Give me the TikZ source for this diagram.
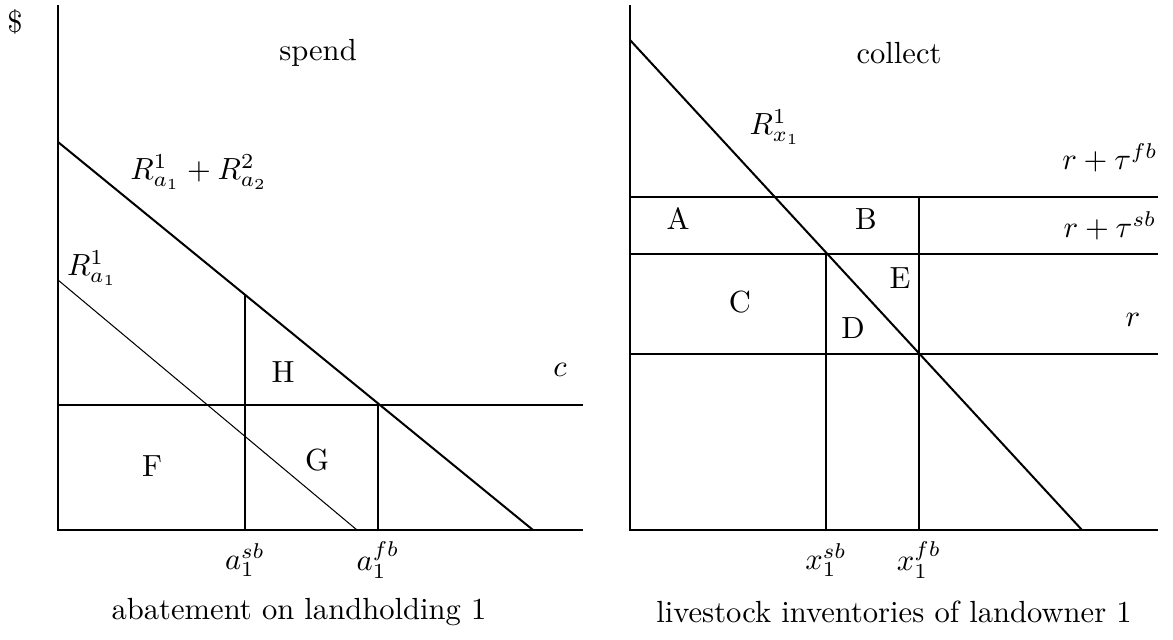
\documentclass[tikz,border=0pt]{standalone}
\begin{document}
\begin{tikzpicture}[x=0.327pt,y=-0.327pt,
  font=\fontsize{10}{12}\selectfont,
  ax/.style={line width=0.66pt},
  thinline/.style={line width=0.34pt},
  lbl/.style={inner sep=0pt}]
\useasboundingbox (0,0) rectangle (1173,639);
% left panel coordinates
\coordinate (LO) at (58,530); \coordinate (LT) at (58,5); \coordinate (LX) at (583,530);
\coordinate (D1s) at (58,142); \coordinate (D1e) at (533,530);
\coordinate (D2s) at (58,280); \coordinate (D2e) at (357,530);
\coordinate (Vsb) at (245,294.7); \coordinate (Vsbb) at (245,530);
\coordinate (Cs) at (58,405); \coordinate (Ce) at (583,405);
\coordinate (Vfb) at (378,403.5); \coordinate (Vfbb) at (378,530);
% right panel coordinates
\coordinate (RO) at (630,530); \coordinate (RT) at (630,5); \coordinate (RX) at (1158,530);
\coordinate (M1s) at (630,40); \coordinate (M1e) at (1082,530);
\coordinate (H1s) at (630,197); \coordinate (H1e) at (1158,197);
\coordinate (H2s) at (630,254); \coordinate (H2e) at (1158,254);
\coordinate (H3s) at (630,354); \coordinate (H3e) at (1158,354);
\coordinate (W1) at (919,197); \coordinate (W1b) at (919,530);
\coordinate (W2) at (826,254); \coordinate (W2b) at (826,530);
% left drawing
\draw[ax] (LT) -- (LO) -- (LX);
\draw[ax] (D1s) -- (D1e);
\draw[thinline] (D2s) -- (D2e);
\draw[ax] (Vsb) -- (Vsbb);
\draw[ax] (Cs) -- (Ce);
\draw[ax] (Vfb) -- (Vfbb);
% right drawing
\draw[ax] (RT) -- (RO) -- (RX);
\draw[ax] (M1s) -- (M1e);
\draw[ax] (H1s) -- (H1e);
\draw[ax] (H2s) -- (H2e);
\draw[ax] (H3s) -- (H3e);
\draw[ax] (W1) -- (W1b);
\draw[ax] (W2) -- (W2b);
% left labels
\node[lbl] (dollar) at (15,22) {\$};
\node[lbl] (spend) at (318,53) {spend};
\node[lbl] (Rsum) at (199,172) {$R^1_{a_1}+R^2_{a_2}$};
\node[lbl] (Ra) at (92,268) {$R^1_{a_1}$};
\node[lbl] (H) at (283,372) {H};
\node[lbl] (c) at (560,370) {$c$};
\node[lbl] (F) at (152,466) {F};
\node[lbl] (G) at (317,460) {G};
\node[lbl] (asb) at (245,560) {$a_1^{sb}$};
\node[lbl] (afb) at (378,560) {$a_1^{fb}$};
\node[lbl] (xlabL) at (299,612) {abatement on landholding 1};
% right labels
\node[lbl] (collect) at (899,53) {collect};
\node[lbl] (Rx) at (775,127) {$R^1_{x_1}$};
\node[lbl] (tfb) at (1110,158) {$r+\tau^{fb}$};
\node[lbl] (tsb) at (1110,226) {$r+\tau^{sb}$};
\node[lbl] (r) at (1133,320) {$r$};
\node[lbl] (A) at (678,219) {A};
\node[lbl] (B) at (866,219) {B};
\node[lbl] (C) at (740,302) {C};
\node[lbl] (E) at (900,278) {E};
\node[lbl] (D) at (853,328) {D};
\node[lbl] (xsb) at (826,560) {$x_1^{sb}$};
\node[lbl] (xfb) at (919,560) {$x_1^{fb}$};
\node[lbl] (xlabR) at (894,612) {livestock inventories of landowner 1};
\end{tikzpicture}
\end{document}
